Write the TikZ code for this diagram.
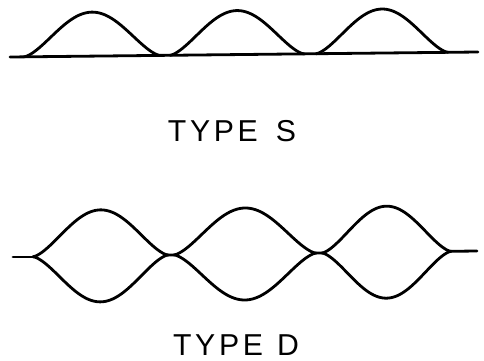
\documentclass[tikz,border=0pt]{standalone}
\usepackage{fontspec}
\newfontfamily\popisfont[LetterSpace=12]{Liberation Sans}
\usetikzlibrary{positioning}
\tikzset{
  vlna/.style={line width=1.4mm,line join=round,line cap=round},
  popis/.style={font=\popisfont\fontsize{43}{43}\selectfont,inner sep=0pt},
}

\begin{document}
\begin{tikzpicture}[x=0.5mm,y=-0.5mm]
  \useasboundingbox (0,0) rectangle (484,361);
  % typ S
  \draw[vlna] (10,57) -- (478,52);
  \foreach \xa/\xb in {24/160,170/304,316/448}
    \draw[vlna] plot[domain=\xa:\xb,samples=80]
      (\x,{57-(\x-10)/93.6-44*pow(abs(sin(180/(\xb-\xa)*(\x-\xa))),1.5)});
  \node[popis] (typS) at (232,131) {TYPE \hspace{3mm}S};
  % typ D
  \draw[vlna] (13,257) -- (33,257);
  \foreach \xa/\xb in {33/168,174/316,322/451} {
    \draw[vlna] plot[domain=\xa:\xb,samples=80]
      (\x,{257-(\x-13)/77.3-46*pow(abs(sin(180/(\xb-\xa)*(\x-\xa))),1.5)});
    \draw[vlna] plot[domain=\xa:\xb,samples=80]
      (\x,{257-(\x-13)/77.3+46*pow(abs(sin(180/(\xb-\xa)*(\x-\xa))),1.5)});
  }
  \draw[vlna] (168,255.1) -- (174,255);
  \draw[vlna] (316,253.1) -- (322,253);
  \draw[vlna] (451,251.3) -- (477,251);
  \node[popis] (typD) at (236,345) {TYPE \hspace{1mm}D};
\end{tikzpicture}
\end{document}
